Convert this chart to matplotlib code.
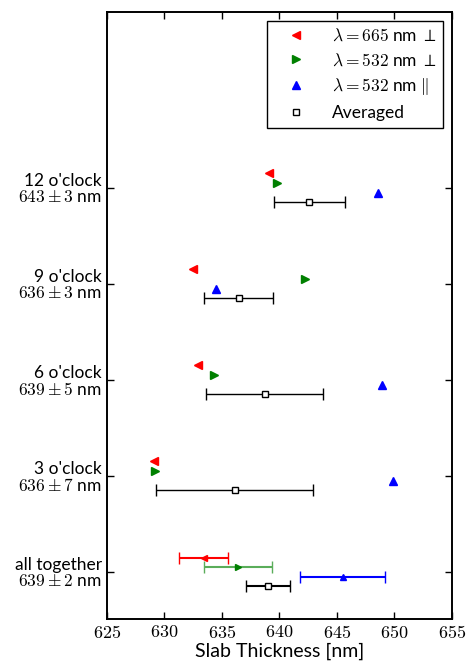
import numpy as np
import matplotlib as mp
mp.use('Agg')
import matplotlib.pyplot as plt

plt.rcParams['mathtext.fontset'] = 'cm'
plt.rcParams['font.family'] = ['Lato', 'DejaVu Sans']

# data
positions = ["all together", "3 o'clock", "6 o'clock", "9 o'clock", "12 o'clock"]
summary = ["$639 \\pm 2$ nm", "$636 \\pm 7$ nm", "$639 \\pm 5$ nm", "$636 \\pm 3$ nm", "$643 \\pm 3$ nm"]

# single positions (3, 6, 9, 12 o'clock)
red665 = [629.1, 632.9, 632.5, 639.1]
green532 = [629.2, 634.3, 642.2, 639.8]
blue532 = [649.9, 648.9, 634.5, 648.6]
avg = [636.1, 638.7, 636.45, 642.6]
avg_err = [6.85, 5.1, 3.0, 3.1]

# all together
all_vals = [633.4, 636.4, 645.5, 639.0]
all_errs = [2.1, 2.95, 3.7, 1.9]

fig = plt.figure(figsize=(4.68, 6.66), dpi=100)
ax = fig.add_axes([0.2286, 0.0706, 0.9658 - 0.2286, 0.982 - 0.0706])

y = np.arange(1, 5)
ax.plot(red665, y + 0.15, '<', color='red', ms=6, mec='red', ls='none',
        label='$\\lambda = 665$ nm $\\perp$')
ax.plot(green532, y + 0.05, '>', color='green', ms=6, mec='green', ls='none',
        label='$\\lambda = 532$ nm $\\perp$')
ax.plot(blue532, y - 0.05, '^', color='blue', ms=6, mec='blue', ls='none',
        label='$\\lambda = 532$ nm $\\|$')
ax.errorbar(avg, y - 0.15, xerr=avg_err, fmt='none', ecolor='black',
            capsize=4, elinewidth=1)
ax.plot(avg, y - 0.15, 's', mfc='white', mec='black', ms=4, mew=1, ls='none',
        label='Averaged')

# combined results
ax.errorbar(all_vals[0], 0.15, xerr=all_errs[0], fmt='<', color='red', ms=4, capsize=4)
ax.errorbar(all_vals[1], 0.05, xerr=all_errs[1], fmt='>', color='green', ecolor='#5aad5a',
            ms=4, capsize=4)
ax.errorbar(all_vals[2], -0.05, xerr=all_errs[2], fmt='^', color='blue', ms=4, capsize=4)
ax.errorbar(all_vals[3], -0.15, xerr=all_errs[3], fmt='s', color='black', mfc='white',
            ms=4, capsize=4)

ax.set_xlim(625, 655)
ax.set_ylim(-0.49, 5.83)
xt = np.arange(625, 656, 5)
ax.set_xticks(xt)
ax.set_xticklabels(['$%d$' % v for v in xt], fontsize=13)
ax.set_yticks(np.arange(5))
ax.set_yticklabels([p + '\n' + s for p, s in zip(positions, summary)], fontsize=12.5,
                   linespacing=1.0)
ax.set_xlabel('Slab Thickness [nm]', fontsize=14, labelpad=1)

ax.tick_params(direction='in', top=True, right=True, length=5, width=1)
for s in ax.spines.values():
    s.set_linewidth(1.4)

leg = ax.legend(loc='upper right', numpoints=1, fancybox=False, framealpha=1,
                edgecolor='black', fontsize=12.5, borderpad=0.4, handlelength=2.5,
                labelspacing=0.45)
leg.get_frame().set_linewidth(1.0)

fig.savefig('out.png', dpi=100)
